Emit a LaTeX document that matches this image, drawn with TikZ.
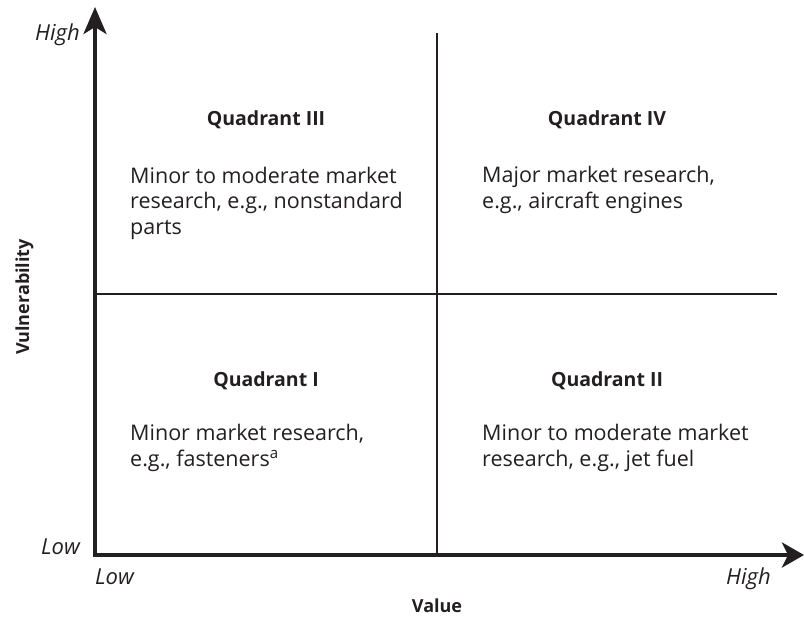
\documentclass[tikz,border=0pt]{standalone}
\usepackage{fontspec}
\setmainfont{Open Sans}
\usetikzlibrary{arrows.meta}
\definecolor{ink}{HTML}{231F20}
\begin{document}
\begin{tikzpicture}[x=1pt,y=-1pt,
  axis/.style={draw=ink,line width=4pt,line join=miter},
  divider/.style={draw=ink,line width=1.3pt},
  heading/.style={font=\fontsize{19.5}{22}\selectfont\bfseries,text=ink,inner sep=0pt,anchor=base},
  body/.style={font=\fontsize{21.5}{25.5}\selectfont,text=ink,inner sep=0pt,anchor=base west,align=left},
  ticklab/.style={font=\fontsize{22}{24}\selectfont\itshape,text=ink,inner sep=0pt},
  axlab/.style={font=\fontsize{18}{20}\selectfont\bfseries,text=ink,inner sep=0pt,anchor=base}]
\useasboundingbox (0,0) rectangle (804,619);
\coordinate (O) at (95,555);
\coordinate (ytop) at (95,7);
\coordinate (xend) at (804,555);
\coordinate (vtop) at (437,33);
\coordinate (vbot) at (437,555);
\coordinate (hleft) at (95,294);
\coordinate (hright) at (777,294);
\draw[divider] (vtop) -- (vbot);
\draw[divider] (hleft) -- (hright);
\draw[axis,{Stealth[length=27pt,width=23pt,inset=7pt]}-{Stealth[length=22pt,width=25pt,inset=6pt]}] (ytop) -- (O) -- (xend);
% quadrant headings
\node[heading] (q3) at (266,125) {Quadrant III};
\node[heading] (q4) at (607,125) {Quadrant IV};
\node[heading] (q1) at (266,386) {Quadrant I};
\node[heading] (q2) at (607,386) {Quadrant II};
% quadrant texts (anchor = baseline of last line)
\node[body] (t3) at (130,234) {Minor to moderate market\\research, e.g., nonstandard\\parts};
\node[body] (t4) at (482,208) {Major market research,\\e.g., aircraft engines};
\node[body] (t1) at (130,466) {Minor market research,\\e.g., fasteners\textsuperscript{a}};
\node[body] (t2) at (482,466) {Minor to moderate market\\research, e.g., jet fuel};
% axis tick labels
\node[ticklab,anchor=base east] (yhigh) at (80,40) {High};
\node[ticklab,anchor=base east] (ylow) at (80,554) {Low};
\node[ticklab,anchor=base west] (xlow) at (95,584) {Low};
\node[ticklab,anchor=base east] (xhigh) at (771,584) {High};
% axis titles
\node[axlab] (xtitle) at (437,612) {Value};
\node[axlab,rotate=90] (ytitle) at (29,297) {Vulnerability};
\end{tikzpicture}
\end{document}
